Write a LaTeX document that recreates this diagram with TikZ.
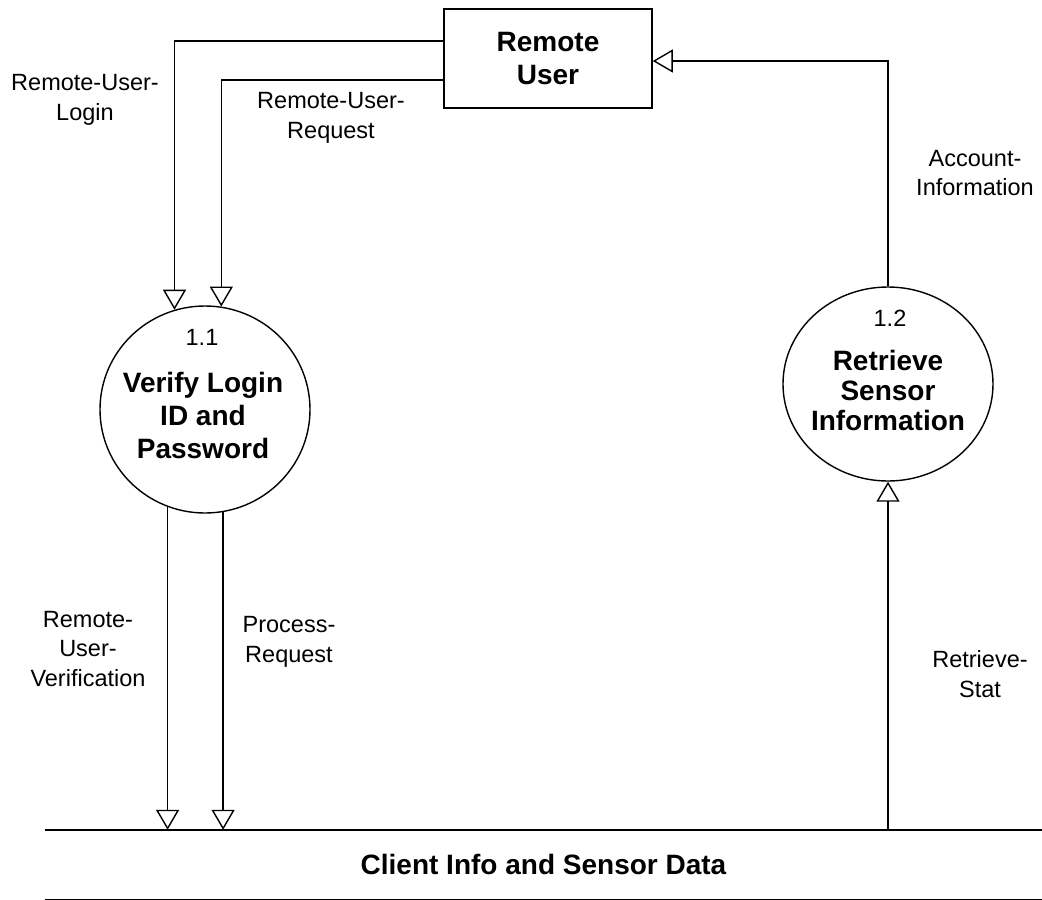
\documentclass[tikz,border=0pt]{standalone}
\usepackage{fontspec}
\setmainfont{Liberation Sans}
\usetikzlibrary{arrows.meta,shapes.geometric}
\begin{document}
\begin{tikzpicture}[x=1pt,y=-1pt,
  flow/.style={draw, line width=1.4pt, -{Triangle[open,width=23pt,length=20pt]}},
  wire/.style={draw, line width=1.4pt},
  lbl/.style={font=\fontsize{23.5}{29.5}\selectfont, align=center, inner sep=0pt},
  ttl/.style={font=\fontsize{28}{33}\selectfont\bfseries, align=center, inner sep=0pt},
  num/.style={font=\fontsize{23.5}{28}\selectfont, inner sep=0pt},
  proc/.style={draw, ellipse, line width=1.4pt, inner sep=0pt},
  entity/.style={draw, rectangle, line width=1.6pt, inner sep=0pt}
]
\useasboundingbox (0,0) rectangle (1042,900);

% external entity
\node[entity, ttl, minimum width=208pt, minimum height=99pt] (ru) at (548,58.5) {Remote\\User};

% processes
\node[proc, minimum width=210pt, minimum height=207pt] (p11) at (205,409.5) {};
\node[num] (n11) at (202,337) {1.1};
\node[ttl] (t11) at (203,415) {Verify Login\\ID and\\Password};

\node[proc, minimum width=210pt, minimum height=194pt] (p12) at (888,384) {};
\node[num] (n12) at (890,318) {1.2};
\node[ttl, font=\fontsize{28}{30}\selectfont\bfseries] (t12) at (888,390) {Retrieve\\Sensor\\Information};

% data store
\node[ttl, minimum width=997pt, minimum height=69pt] (ds) at (543.5,864.5) {Client Info and Sensor Data};
\draw[wire] (ds.north west) -- (ds.north east);
\draw[wire] (ds.south west) -- (ds.south east);

% data flows
\draw[flow] ([yshift=17.5pt]ru.west) -| (p11.107);
\draw[flow] ([yshift=-21.5pt]ru.west) -| (p11.81);
\draw[flow] (p11.249) -- (p11.249 |- ds.north);
\draw[flow] (p11.280) -- (p11.280 |- ds.north);
\draw[flow] (ds.north -| p12.south) -- (p12.south);
\draw[flow] (p12.north) |- ([yshift=-2.5pt]ru.east);

% flow labels
\node[lbl] (l1) at (85,100) {Remote-User-\\Login};
\node[lbl] (l2) at (331,118) {Remote-User-\\Request};
\node[lbl] (l3) at (975,173) {Account-\\Information};
\node[lbl] (l4) at (88,649) {Remote-\\User-\\Verification};
\node[lbl] (l5) at (289,642) {Process-\\Request};
\node[lbl] (l6) at (980,674) {Retrieve-\\Stat};
\end{tikzpicture}
\end{document}
